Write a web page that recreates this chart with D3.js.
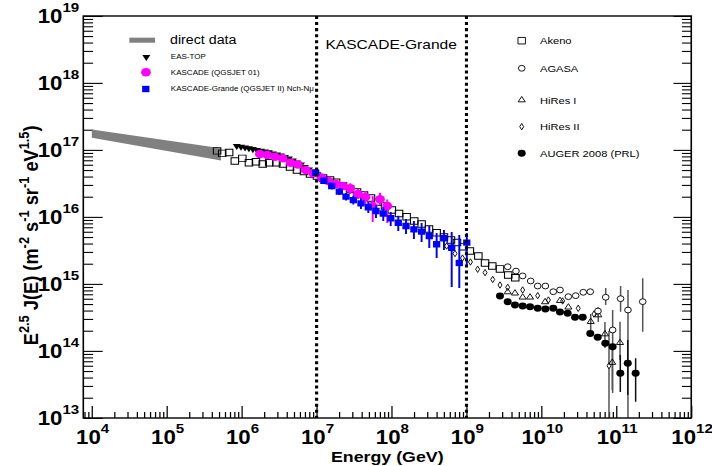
<!DOCTYPE html>
<html>
<head>
<meta charset="utf-8">
<script src="https://cdn.jsdelivr.net/npm/d3@7"></script>
<style>
  html, body { margin: 0; padding: 0; background: #fff; }
  svg { display: block; }
  text { font-family: "Liberation Sans", Arial, Helvetica, sans-serif; }
</style>
</head>
<body>
<svg id="chart" width="712" height="466" viewBox="0 0 800 600" preserveAspectRatio="none"></svg>
<script>
// ---------------- data (energy in GeV, flux E^2.5 J(E)) ----------------
const xTickExps = [4, 5, 6, 7, 8, 9, 10, 11, 12];
const yTickExps = [13, 14, 15, 16, 17, 18, 19];
const boundaryE = [1e7, 1e9];

const directE  = [1e4, 5.3e5];
const directHi = [2.02e17, 1.06e17];
const directLo = [1.52e17, 7.0e16];

const akenoE = [4.7e5, 5.5e5, 6.8e5, 8.1e5, 1.02e6, 1.25e6, 1.55e6, 1.91e6, 2.33e6, 2.91e6, 3.56e6,
  4.42e6, 5.47e6, 6.79e6, 8.17e6, 1.01e7, 1.22e7, 1.51e7, 1.82e7, 2.25e7, 2.79e7, 3.46e7, 4.29e7,
  5.32e7, 6.59e7, 8.18e7, 1.01e8, 1.26e8, 1.59e8, 2.01e8, 2.52e8, 3.16e8, 4.0e8, 5.01e8, 6.21e8,
  7.47e8, 9.06e8, 1.11e9, 1.44e9, 1.77e9, 2.21e9, 2.80e9, 3.61e9, 4.48e9];
const akenoJ = [9.7e16, 8.9e16, 9.2e16, 6.85e16, 7.5e16, 6.46e16, 6.68e16, 6.18e16, 6.46e16, 6.46e16,
  6.18e16, 5.58e16, 5.03e16, 4.78e16, 4.39e16, 4.09e16, 3.82e16, 3.56e16, 3.30e16, 2.90e16, 2.62e16,
  2.36e16, 2.13e16, 1.92e16, 1.67e16, 1.46e16, 1.27e16, 1.13e16, 1.01e16, 8.71e15, 7.85e15, 6.62e15,
  5.83e15, 5.04e15, 4.54e15, 4.17e15, 3.61e15, 3.11e15, 2.62e15, 2.06e15, 1.86e15, 1.68e15, 1.36e15,
  1.24e15];

const easTopE = [8.6e5, 9.8e5, 1.11e6, 1.25e6, 1.41e6, 1.6e6, 1.81e6, 2.04e6, 2.31e6, 2.61e6, 2.96e6,
  3.34e6, 3.78e6, 4.27e6, 4.83e6, 5.46e6, 6.18e6, 6.98e6, 7.9e6];
const easTopJ = [1.15e17, 1.12e17, 1.09e17, 1.06e17, 1.03e17, 1.0e17, 9.73e16, 9.5e16, 9.24e16, 8.87e16,
  8.57e16, 8.28e16, 7.86e16, 7.46e16, 6.97e16, 6.51e16, 6.08e16, 5.58e16, 5.12e16];

const kascadeE  = [1.75e6, 2.2e6, 2.78e6, 3.52e6, 4.51e6, 5.64e6, 7.15e6, 9.03e6, 1.16e7, 1.44e7, 1.81e7,
  2.25e7, 2.81e7, 3.56e7, 4.49e7, 5.6e7, 7.01e7, 8.77e7];
const kascadeJ  = [8.71e16, 8.41e16, 7.94e16, 7.52e16, 6.46e16, 6.08e16, 5.03e16, 4.49e16, 3.89e16, 3.44e16,
  3.10e16, 2.90e16, 2.68e16, 2.20e16, 1.99e16, 1.46e16, 1.84e16, 1.46e16];
const kascadeHi = [9.1e16, 8.8e16, 8.3e16, 7.9e16, 6.8e16, 6.4e16, 5.3e16, 4.75e16, 4.15e16, 3.7e16, 3.35e16,
  3.15e16, 3.18e16, 2.62e16, 2.44e16, 2.06e16, 2.31e16, 1.82e16];
const kascadeLo = [8.3e16, 8.0e16, 7.6e16, 7.15e16, 6.1e16, 5.75e16, 4.75e16, 4.2e16, 3.6e16, 3.2e16, 2.85e16,
  2.65e16, 2.2e16, 1.86e16, 1.51e16, 8.4e15, 1.51e16, 8.15e15];

const grandeE  = [9.72e6, 1.25e7, 1.59e7, 2.01e7, 2.47e7, 3.09e7, 3.91e7, 4.9e7, 6.2e7, 7.76e7, 9.75e7,
  1.23e8, 1.56e8, 1.99e8, 2.52e8, 3.19e8, 4.0e8, 5.01e8, 6.35e8, 8.02e8, 1.01e9];
const grandeJ  = [4.58e16, 3.48e16, 2.90e16, 2.39e16, 2.01e16, 1.79e16, 1.60e16, 1.40e16, 1.23e16, 1.13e16,
  9.57e15, 8.22e15, 7.33e15, 6.55e15, 6.04e15, 5.21e15, 3.92e15, 4.81e15, 3.48e15, 2.06e15, 4.14e15];
const grandeHi = [5.12e16, 3.89e16, 3.22e16, 2.66e16, 2.28e16, 2.06e16, 1.89e16, 1.67e16, 1.51e16, 1.41e16,
  1.19e16, 1.04e16, 9.34e15, 8.71e15, 8.14e15, 7.35e15, 5.77e15, 6.40e15, 5.97e15, 5.38e15, 5.77e15];
const grandeLo = [4.09e16, 3.11e16, 2.58e16, 2.13e16, 1.76e16, 1.54e16, 1.32e16, 1.15e16, 9.66e15, 8.71e15,
  7.35e15, 6.18e15, 5.58e15, 4.70e15, 4.24e15, 3.44e15, 2.44e15, 3.21e15, 9.02e14, 8.71e14, 1.79e15];

const hires2E  = [5.44e8, 7.03e8, 8.85e8, 1.13e9, 1.41e9, 1.77e9, 2.24e9, 2.80e9, 3.55e9, 5.62e9, 8.92e9,
  1.24e10, 1.92e10, 3.10e10, 5.03e10, 7.98e10];
const hires2J  = [3.69e15, 2.85e15, 2.44e15, 2.13e15, 1.66e15, 1.48e15, 1.17e15, 9.66e14, 8.93e14, 8.15e14,
  6.70e14, 5.77e14, 5.58e14, 4.34e14, 3.56e14, 6.04e13];
const hires2Hi = [null, null, null, null, null, null, null, null, null, null, null, null, null, null, null, 2.0e14];
const hires2Lo = [null, null, null, null, null, null, null, null, null, null, null, null, null, null, null, 5e12];

const hires1E  = [3.55e9, 4.44e9, 5.62e9, 7.05e9, 1.12e10, 1.77e10, 2.29e10, 4.55e10, 5.74e10, 7.05e10, 8.83e10, 1.12e11];
const hires1J  = [7.60e14, 7.28e14, 6.34e14, 6.34e14, 5.40e14, 5.64e14, 4.50e14, 2.74e14, 3.44e14, 1.79e14, 6.73e13, 1.33e14];
const hires1Hi = [null, null, null, null, null, null, null, 3.56e14, 4.39e14, 2.71e14, 1.23e14, 2.74e14];
const hires1Lo = [null, null, null, null, null, null, null, 2.06e14, 2.71e14, 1.11e14, 2.62e13, 7.35e13];

const agasaE  = [3.55e9, 4.58e9, 5.62e9, 7.19e9, 8.92e9, 1.13e10, 1.44e10, 1.77e10, 2.29e10, 2.87e10, 3.62e10,
  4.49e10, 5.69e10, 7.21e10, 8.93e10, 1.14e11, 1.43e11, 2.25e11];
const agasaJ  = [1.81e15, 1.56e15, 1.32e15, 1.11e15, 9.33e14, 9.33e14, 7.67e14, 8.13e14, 6.47e14, 6.70e14, 7.52e14,
  7.67e14, 3.95e14, 6.34e14, 2.06e14, 6.04e14, 4.09e14, 5.45e14];
const agasaHi = [null, null, null, null, null, null, null, null, null, null, null,
  null, 4.5e14, 8.71e14, 4.09e14, 9.33e14, 8.15e14, 1.22e15];
const agasaLo = [null, null, null, null, null, null, null, null, null, null, null,
  null, 3.4e14, 4.86e14, 2.36e13, 3.86e14, 5e12, 1.94e14];

const augerE  = [2.80e9, 3.55e9, 4.44e9, 5.62e9, 7.05e9, 8.92e9, 1.13e10, 1.44e10, 1.77e10, 2.24e10, 2.81e10,
  3.56e10, 4.49e10, 5.64e10, 7.13e10, 8.93e10, 1.13e11, 1.42e11, 1.81e11];
const augerJ  = [6.62e14, 5.45e14, 4.86e14, 4.70e14, 4.58e14, 4.34e14, 4.24e14, 4.34e14, 3.82e14, 3.65e14, 3.18e14,
  3.18e14, 1.83e14, 1.60e14, 1.30e14, 1.16e14, 4.65e13, 6.55e13, 4.65e13];
const augerHi = [null, null, null, null, null, null, null, null, null, null, null,
  null, null, null, null, null, 8.71e13, 1.46e14, 7.78e13];
const augerLo = [null, null, null, null, null, null, null, null, null, null, null,
  null, null, null, null, null, 2.44e13, 2.2e13, 1.75e13];

// ---------------- layout ----------------
const svg = d3.select("#chart");
const frame = { left: 93.6, right: 776.7, top: 20.6, bottom: 538.2 };
const x = d3.scaleLog().domain([7.7e3, 1e12]).range([frame.left, frame.right]);
const y = d3.scaleLog().domain([1e13, 1e19]).range([frame.bottom, frame.top]);

const FONT_LABEL = 25, FONT_SUP = 17;

svg.append("defs").append("clipPath").attr("id", "plotClip")
  .append("rect")
  .attr("x", frame.left).attr("y", frame.top)
  .attr("width", frame.right - frame.left).attr("height", frame.bottom - frame.top);

// tick values
const xMajor = xTickExps.map(k => Math.pow(10, k));
const yMajor = yTickExps.map(k => Math.pow(10, k));
function minorTicks(domain) {
  const out = [];
  const lo = Math.floor(Math.log10(domain[0])), hi = Math.ceil(Math.log10(domain[1]));
  for (let k = lo; k < hi; k++) {
    for (let m = 2; m <= 9; m++) {
      const v = m * Math.pow(10, k);
      if (v >= domain[0] && v <= domain[1]) out.push(v);
    }
  }
  return out;
}
const xMinor = minorTicks(x.domain());
const yMinor = minorTicks(y.domain());

function stripAxis(g) {
  g.select(".domain").remove();
  g.selectAll(".tick line").attr("stroke", "#000").attr("stroke-width", 1.4);
  g.selectAll(".tick text").remove();
}

// bottom axis ticks (inward)
svg.append("g").attr("transform", `translate(0,${frame.bottom})`)
  .call(d3.axisBottom(x).tickValues(xMajor).tickSize(-15.5).tickFormat(""))
  .call(stripAxis);
svg.append("g").attr("transform", `translate(0,${frame.bottom})`)
  .call(d3.axisBottom(x).tickValues(xMinor).tickSize(-7.7).tickFormat(""))
  .call(stripAxis);

// left and right axis ticks (inward)
svg.append("g").attr("transform", `translate(${frame.left},0)`)
  .call(d3.axisLeft(y).tickValues(yMajor).tickSize(-21.8).tickFormat(""))
  .call(stripAxis);
svg.append("g").attr("transform", `translate(${frame.left},0)`)
  .call(d3.axisLeft(y).tickValues(yMinor).tickSize(-11).tickFormat(""))
  .call(stripAxis);
svg.append("g").attr("transform", `translate(${frame.right},0)`)
  .call(d3.axisLeft(y).tickValues(yMajor).tickSize(20).tickFormat(""))
  .call(stripAxis);
svg.append("g").attr("transform", `translate(${frame.right},0)`)
  .call(d3.axisLeft(y).tickValues(yMinor).tickSize(10.5).tickFormat(""))
  .call(stripAxis);

// power-of-ten tick labels
function powerLabel(sel, exp) {
  sel.append("tspan").text("10");
  sel.append("tspan").attr("dy", -14.5).attr("font-size", FONT_SUP).text(exp);
}
svg.append("g").selectAll("text").data(xTickExps).join("text")
  .attr("x", k => x(Math.pow(10, k)) + 1)
  .attr("y", 571.5)
  .attr("text-anchor", "middle")
  .attr("font-size", FONT_LABEL).attr("font-weight", "bold")
  .each(function (k) { powerLabel(d3.select(this), k); });

svg.append("g").selectAll("text").data(yTickExps).join("text")
  .attr("x", 89)
  .attr("y", k => y(Math.pow(10, k)) + 9)
  .attr("text-anchor", "end")
  .attr("font-size", FONT_LABEL).attr("font-weight", "bold")
  .each(function (k) { powerLabel(d3.select(this), k); });

// axis titles
svg.append("text")
  .attr("x", (frame.left + frame.right) / 2).attr("y", 595)
  .attr("text-anchor", "middle").attr("font-size", 20).attr("font-weight", "bold")
  .text("Energy (GeV)");

const yTitle = svg.append("text")
  .attr("transform", "translate(43,303) rotate(-90)")
  .attr("text-anchor", "middle").attr("font-size", 23.5).attr("font-weight", "bold");
[["E", 0], ["2.5", 1], [" J(E) (m", 0], ["-2", 1], [" s", 0], ["-1", 1], [" sr", 0], ["-1", 1], [" eV", 0], ["1.5", 1], [")", 0]]
  .forEach(([t, sup], i, arr) => {
    const prevSup = i > 0 ? arr[i - 1][1] : 0;
    const ts = yTitle.append("tspan").text(t);
    if (sup && !prevSup) ts.attr("dy", -10).attr("font-size", 16.5);
    else if (!sup && prevSup) ts.attr("dy", 10);
  });

// ---------------- marks ----------------
const plot = svg.append("g").attr("clip-path", "url(#plotClip)");

const shapes = {
  square: s => `M${-s / 2},${-s / 2}h${s}v${s}h${-s}Z`,
  triUp: s => { const h = s * 0.866; return `M0,${-2 * h / 3}L${s / 2},${h / 3}L${-s / 2},${h / 3}Z`; },
  triDown: s => { const h = s * 0.866; return `M0,${2 * h / 3}L${s / 2},${-h / 3}L${-s / 2},${-h / 3}Z`; },
  diamond: s => `M0,${-s * 0.55}L${s * 0.3},0L0,${s * 0.55}L${-s * 0.3},0Z`,
  circle: s => { const r = s / 2; return `M${r},0A${r},${r} 0 1,1 ${-r},0A${r},${r} 0 1,1 ${r},0Z`; }
};

function markers(g, E, J, shape, size, fill, stroke, sw) {
  g.append("g").selectAll("path").data(E.map((e, i) => [e, J[i]])).join("path")
    .attr("transform", d => `translate(${x(d[0])},${y(d[1])})`)
    .attr("d", shapes[shape](size))
    .attr("fill", fill).attr("stroke", stroke).attr("stroke-width", sw);
}
function errorBars(g, E, hi, lo, color, width) {
  g.append("g").selectAll("line")
    .data(E.map((e, i) => ({ e, hi: hi[i], lo: lo[i] })).filter(d => d.hi != null))
    .join("line")
    .attr("x1", d => x(d.e)).attr("x2", d => x(d.e))
    .attr("y1", d => y(d.hi)).attr("y2", d => y(d.lo))
    .attr("stroke", color).attr("stroke-width", width);
}

// direct measurements band
plot.append("path")
  .datum(directE.map((e, i) => ({ e, hi: directHi[i], lo: directLo[i] })))
  .attr("d", d3.area().x(d => x(d.e)).y0(d => y(d.lo)).y1(d => y(d.hi)))
  .attr("fill", "#808080");

markers(plot, akenoE, akenoJ, "square", 8.4, "none", "#000", 1.2);
markers(plot, easTopE, easTopJ, "triDown", 9, "#000", "none", 0);
errorBars(plot, kascadeE, kascadeHi, kascadeLo, "#ff00ff", 2.2);
markers(plot, kascadeE, kascadeJ, "circle", 11, "#ff00ff", "none", 0);
errorBars(plot, grandeE, grandeHi, grandeLo, "#0000ff", 2.2);
markers(plot, grandeE, grandeJ, "square", 8.2, "#0000ff", "none", 0);

errorBars(plot, hires2E, hires2Hi, hires2Lo, "#555", 1.7);
errorBars(plot, hires1E, hires1Hi, hires1Lo, "#555", 1.7);
errorBars(plot, agasaE, agasaHi, agasaLo, "#555", 1.7);
errorBars(plot, augerE, augerHi, augerLo, "#111", 1.7);
markers(plot, hires2E, hires2J, "diamond", 7.5, "#fff", "#000", 1.1);
markers(plot, hires1E, hires1J, "triUp", 8, "none", "#000", 1.1);
markers(plot, agasaE, agasaJ, "circle", 7.5, "#fff", "#000", 1.1);
markers(plot, augerE, augerJ, "circle", 9, "#000", "none", 0);

// KASCADE-Grande energy range boundaries
plot.append("g").selectAll("line").data(boundaryE).join("line")
  .attr("x1", d => x(d)).attr("x2", d => x(d))
  .attr("y1", frame.top).attr("y2", frame.bottom)
  .attr("stroke", "#000").attr("stroke-width", 3.5)
  .attr("stroke-dasharray", "3.9,3.9");

// frame
svg.append("rect")
  .attr("x", frame.left).attr("y", frame.top)
  .attr("width", frame.right - frame.left).attr("height", frame.bottom - frame.top)
  .attr("fill", "none").attr("stroke", "#000").attr("stroke-width", 1.8);

svg.append("text")
  .attr("x", 439.5).attr("y", 63)
  .attr("text-anchor", "middle").attr("font-size", 17.5)
  .text("KASCADE-Grande");

// ---------------- legends ----------------
const legL = svg.append("g");
legL.append("rect").attr("x", 145.3).attr("y", 48.5).attr("width", 28.9).attr("height", 6.5).attr("fill", "#808080");
legL.append("text").attr("x", 191).attr("y", 56.5).attr("font-size", 16).text("direct data");
legL.append("path").attr("transform", "translate(164.4,73.4)").attr("d", shapes.triDown(9)).attr("fill", "#000");
legL.append("text").attr("x", 192).attr("y", 76.6).attr("font-size", 9).text("EAS-TOP");
legL.append("path").attr("transform", "translate(164,93.1)").attr("d", shapes.circle(11)).attr("fill", "#ff00ff");
legL.append("text").attr("x", 192).attr("y", 96.3).attr("font-size", 9).text("KASCADE (QGSJET 01)");
legL.append("path").attr("transform", "translate(163.8,114.6)").attr("d", shapes.square(8.2)).attr("fill", "#0000ff");
legL.append("text").attr("x", 192).attr("y", 117.8).attr("font-size", 9).text("KASCADE-Grande (QGSJET II) Nch-N\u03bc");

const legR = svg.append("g");
const legRItems = [
  { label: "Akeno", y: 52.4, shape: "square", size: 8.4, fill: "none", stroke: "#000" },
  { label: "AGASA", y: 87.9, shape: "circle", size: 7.5, fill: "none", stroke: "#000" },
  { label: "HiRes I", y: 128.8, shape: "triUp", size: 8, fill: "none", stroke: "#000" },
  { label: "HiRes II", y: 163.1, shape: "diamond", size: 7.5, fill: "none", stroke: "#000" },
  { label: "AUGER 2008 (PRL)", y: 197.4, shape: "circle", size: 9, fill: "#000", stroke: "none" }
];
legRItems.forEach(it => {
  legR.append("path").attr("transform", `translate(586.2,${it.y})`)
    .attr("d", shapes[it.shape](it.size))
    .attr("fill", it.fill).attr("stroke", it.stroke).attr("stroke-width", 1.1);
  legR.append("text").attr("x", 606.7).attr("y", it.y + 4.5).attr("font-size", 12.5).text(it.label);
});
</script>
</body>
</html>
